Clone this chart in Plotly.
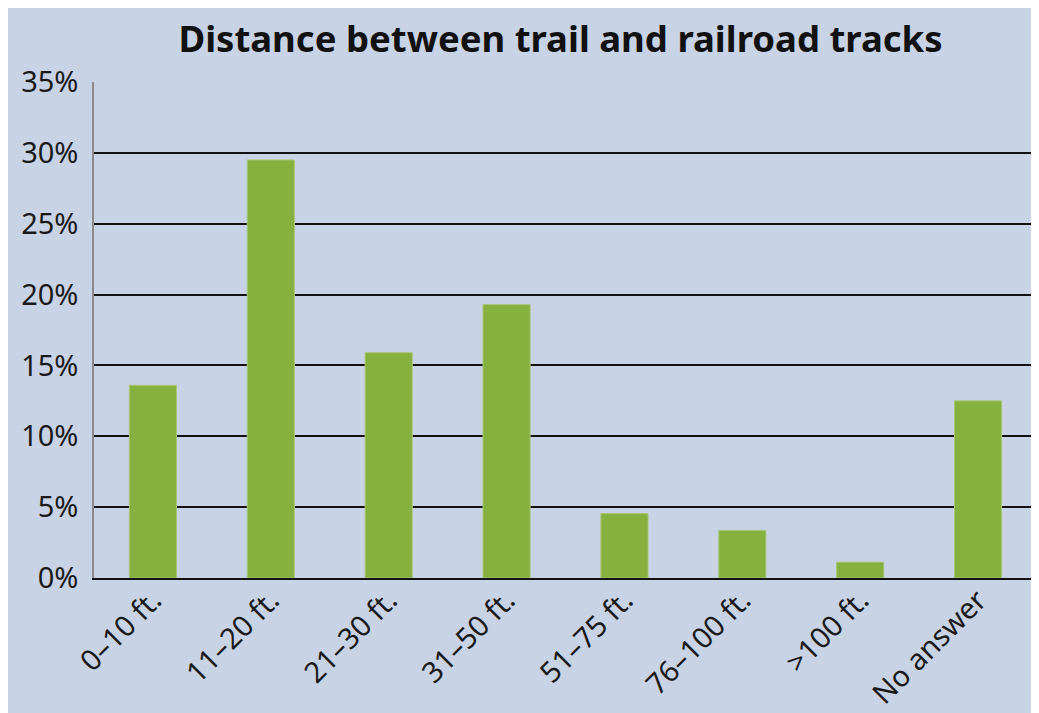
import plotly.graph_objects as go

categories = ["0–10 ft.", "11–20 ft.", "21–30 ft.", "31–50 ft.", "51–75 ft.", "76–100 ft.", ">100 ft.", "No answer"]
percent = [13.6, 29.5, 15.9, 19.3, 4.55, 3.36, 1.12, 12.5]
y_ticks = [0, 5, 10, 15, 20, 25, 30, 35]
y_tick_text = [f"{v}%" for v in y_ticks]

bg = "#C8D3E5"
green = "#87B13F"

fig = go.Figure(go.Bar(
    x=categories, y=percent,
    marker=dict(color=green, line=dict(color="#A9C77A", width=1)),
    width=0.4,
))

fig.update_layout(
    width=1039, height=713,
    paper_bgcolor=bg, plot_bgcolor=bg,
    margin=dict(l=86, r=10, t=74, b=133),
    title=dict(text="<b>Distance between trail and railroad tracks</b>",
               x=(86 + 1019) / 2 / 1039, xanchor="center", y=1 - 31 / 713, yanchor="middle",
               font=dict(family="Noto Sans", size=36.5, color="#111111")),
    font=dict(family="Noto Sans", color="#1a1a1a"),
    showlegend=False,
    bargap=0.6,
)
fig.update_yaxes(
    range=[0, 35], tickvals=y_ticks, ticktext=y_tick_text,
    showgrid=True, gridcolor="#111111", gridwidth=1.5,
    showline=True, linecolor="#8a8a8a", linewidth=1.5,
    zeroline=False, ticks="", ticklabelstandoff=8,
    tickfont=dict(size=29),
)
fig.update_xaxes(
    tickangle=-45, showline=True, linecolor="#111111", linewidth=1.5,
    ticks="", tickfont=dict(size=29), showgrid=False, ticklabelstandoff=-8,
)
fig.add_shape(type="line", xref="paper", yref="paper", x0=1, x1=1, y0=0, y1=1,
              line=dict(color="#111111", width=1.5))

fig.write_html("out.html")
